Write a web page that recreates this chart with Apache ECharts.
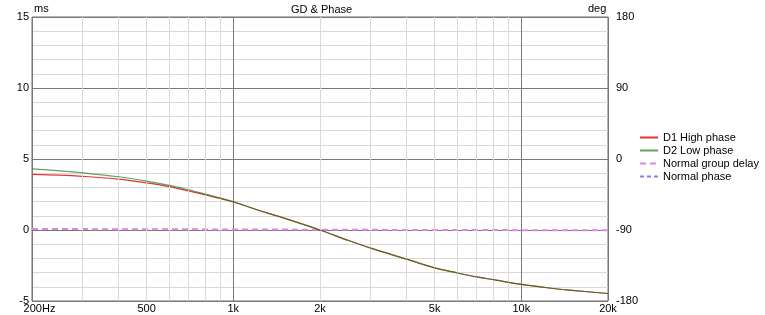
<!DOCTYPE html>
<html><head><meta charset="utf-8">
<script src="https://cdn.jsdelivr.net/npm/echarts@6/dist/echarts.min.js"></script>
<style>html,body{margin:0;padding:0;background:#fff}#c{width:765px;height:315px}</style>
</head><body><div id="c"></div>
<script>
// ---- data ----
const freqs = [200,250,300,400,500,600,700,800,1000,1200,1500,2000,2500,3000,4000,5000,6000,7000,8000,10000,12500,15000,20000];
const d1HighPhase = [-19.5,-20.5,-22,-25.5,-30.3,-35,-40.5,-45.5,-54.5,-64,-75,-90,-103,-113,-127,-138,-144.5,-149.5,-153,-159,-163.5,-166.5,-170.5];
const d2LowPhase  = [-12.5,-15,-17.5,-22.5,-28,-33.5,-39,-44.5,-54,-64,-75,-90,-103,-113,-127,-138,-144.5,-149.5,-153,-159,-163.5,-166.5,-170.5];
const gdFreqs = [200,1000,2000,5000,20000];
const normalGroupDelay = [0.07,0.04,0.02,0.0,-0.02];
const normalPhase = [];
const xTickValues = [200,500,1000,2000,5000,10000,20000];
const xTickLabels = ['200Hz','500','1k','2k','5k','10k','20k'];
const xMinorGrid = [300,400,500,600,700,800,900,2000,3000,4000,5000,6000,7000,8000,9000];
const seriesNames = ['D1 High phase','D2 Low phase','Normal group delay','Normal phase'];

const FONT = 'Liberation Sans, Arial, sans-serif';
const chart = echarts.init(document.getElementById('c'), null, {renderer:'canvas'});
const pairs = (xs, ys) => xs.map((x,i)=>[x, ys[i]]);

chart.setOption({
  animation:false,
  backgroundColor:'#fff',
  textStyle:{fontFamily:FONT},
  grid:{left:32, top:17, width:576, height:284, show:true, borderColor:'#6e6e6e', borderWidth:1, backgroundColor:'transparent'},
  graphic:[
    {type:'text', left:291, top:4, style:{text:'GD & Phase', font:'11px '+FONT, fill:'#000'}},
    {type:'text', left:34, top:3, style:{text:'ms', font:'11px '+FONT, fill:'#000'}},
    {type:'text', left:588, top:3, style:{text:'deg', font:'11px '+FONT, fill:'#000'}}
  ],
  legend:{
    orient:'vertical', left:639, top:131, padding:0, itemGap:0,
    itemWidth:18, itemHeight:8,
    data:seriesNames,
    itemStyle:{opacity:0},
    textStyle:{fontSize:11, lineHeight:13, color:'#000', fontFamily:FONT}
  },
  xAxis:{
    type:'log', logBase:10, min:200, max:20000,
    axisLine:{show:false}, axisTick:{show:false},
    axisLabel:{
      customValues:xTickValues, margin:2, fontSize:11, color:'#000', fontFamily:FONT,
      showMinLabel:true, showMaxLabel:true,
      formatter:function(v){
        for (let i=0;i<xTickValues.length;i++){
          if (Math.abs(Math.log10(v)-Math.log10(xTickValues[i]))<1e-4){
            return i===0 ? '{a|'+xTickLabels[i]+'}' : xTickLabels[i];
          }
        }
        return '';
      },
      rich:{a:{fontSize:11, fontFamily:FONT, color:'#000', padding:[0,0,0,15]}}
    },
    splitLine:{show:true, lineStyle:{color:'#7a7a7a', width:1}}
  },
  yAxis:[
    {type:'value', min:-5, max:15, interval:5,
     axisLine:{show:false}, axisTick:{show:false},
     axisLabel:{margin:3, fontSize:11, color:'#000', fontFamily:FONT},
     splitLine:{show:true, lineStyle:{color:'#7a7a7a'}},
     minorTick:{show:false, splitNumber:5},
     minorSplitLine:{show:true, lineStyle:{color:'#d9d9d9'}}
    },
    {type:'value', min:-180, max:180, interval:90,
     axisLine:{show:false}, axisTick:{show:false},
     axisLabel:{margin:8, fontSize:11, color:'#000', fontFamily:FONT},
     splitLine:{show:false}
    }
  ],
  series:[
    {type:'line', name:'_grid', data:[], z:1, silent:true,
     markLine:{symbol:'none', silent:true, label:{show:false}, animation:false,
       lineStyle:{color:'#d9d9d9', type:'solid', width:1},
       emphasis:{disabled:true},
       data:xMinorGrid.map(v=>({xAxis:v}))}},
    {type:'line', name:seriesNames[3], yAxisIndex:1, data:normalPhase, symbol:'none', z:3,
     lineStyle:{color:'#7f7fe6', width:1.5, type:[4,3]}, itemStyle:{color:'#7f7fe6'}},
    {type:'line', name:seriesNames[2], yAxisIndex:0, data:pairs(gdFreqs, normalGroupDelay), symbol:'none', z:3,
     lineStyle:{color:'#dd88dd', width:2, type:[6,4]}, itemStyle:{color:'#dd88dd'}},
    {type:'line', name:seriesNames[0], yAxisIndex:1, data:pairs(freqs, d1HighPhase), symbol:'none', smooth:0.3, z:4,
     lineStyle:{color:'#e03434', width:1.2}, itemStyle:{color:'#e03434'}},
    {type:'line', name:seriesNames[1], yAxisIndex:1, data:pairs(freqs, d2LowPhase), symbol:'none', smooth:0.3, z:5,
     lineStyle:{color:'#1f7a1f', width:1.2, opacity:0.7}, itemStyle:{color:'#2e8b2e'}}
  ]
});
</script></body></html>
